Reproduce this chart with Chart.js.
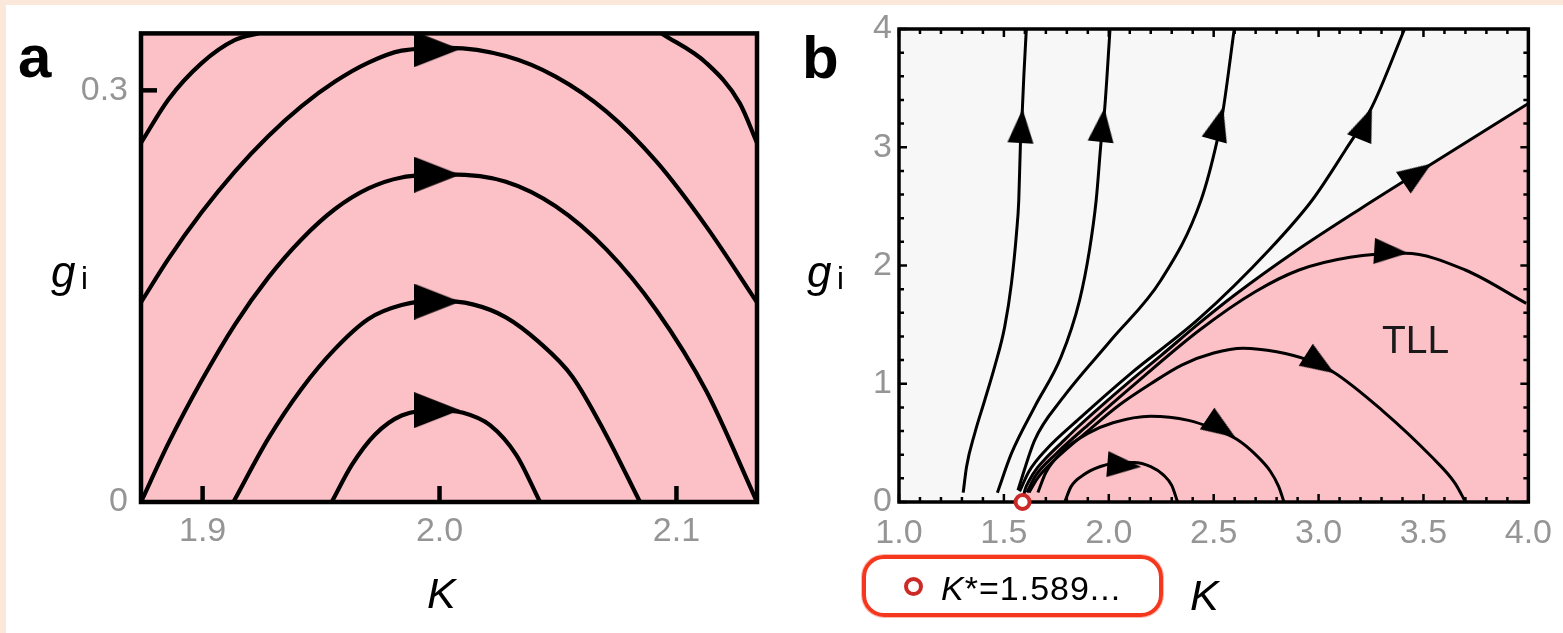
<!DOCTYPE html>
<html lang="en">
<head>
    <meta charset="UTF-8">
    <title>RG flow</title>
    <script src="https://cdn.jsdelivr.net/npm/chart.js"></script>
    <style>
        body { margin: 0; width: 1563px; height: 633px; background: #fff; position: relative; overflow: hidden;
               font-family: 'Liberation Sans', Arial, sans-serif; }
        .edge-top { position: absolute; left: 0; top: 0; width: 1563px; height: 5px; background: #fce8da; }
        .edge-left { position: absolute; left: 0; top: 0; width: 6px; height: 633px; background: #fce8da; }
        .panel { position: absolute; top: 0; }
        .txt { position: absolute; line-height: 1; white-space: nowrap; color: #000; }
        .it { font-style: italic; }
        .key { position: absolute; left: 862px; top: 555px; width: 301px; height: 62px; box-sizing: border-box;
               border: 4px solid #f5371d; border-radius: 22px; box-shadow: 0 0 0 1px rgba(245,55,29,0.35); }
        .key-dot { position: absolute; left: 904px; top: 577px; width: 19px; height: 19px; box-sizing: border-box;
                   border: 4px solid #cc2a27; border-radius: 50%; background: #fff; }
    </style>
</head>
<body>
    <div class="edge-top"></div>
    <div class="edge-left"></div>

    <div class="panel" style="left:0"><canvas id="chartA" width="780" height="633"></canvas></div>
    <div class="panel" style="left:780px"><canvas id="chartB" width="783" height="633"></canvas></div>

    <!-- labels -->
    <div class="txt" style="left:18px; top:27px; font-size:60px; font-weight:bold">a</div>
    <div class="txt" style="left:802px; top:28px; font-size:60px; font-weight:bold">b</div>

    <div class="txt it" style="left:51px; top:250px; font-size:44px">g</div>
    <div class="txt" style="left:81px; top:263px; font-size:31px">i</div>
    <div class="txt it" style="left:807px; top:250px; font-size:44px">g</div>
    <div class="txt" style="left:837px; top:263px; font-size:31px">i</div>

    <div class="txt it" style="left:427px; top:572px; font-size:43px">K</div>
    <div class="txt it" style="left:1190px; top:574px; font-size:43px">K</div>

    <div class="txt" style="left:1382px; top:320px; font-size:39px; color:#1a1a1a">TLL</div>

    <div class="key"></div>
    <div class="key-dot"></div>
    <div class="txt" style="left:941px; top:571px; font-size:34px; letter-spacing:1px"><span class="it">K</span>*=1.589...</div>

    <script>
        // ---- panel a : zoom on the flow near K = 2 ----
        const aKTicks = [1.9, 2.0, 2.1];
        const aGTicks = [0, 0.3];
        const aFlow1 = [[1.9545, 0], [1.963, 0.027], [1.9727, 0.049], [1.984, 0.063], [1.999, 0.0668], [2.01, 0.065], [2.0213, 0.056], [2.0325, 0.034], [2.0424, 0]];
        const aFlow2 = [[1.913, 0], [1.9277, 0.0462], [1.9418, 0.0826], [1.9559, 0.1116], [1.97, 0.1334], [1.984, 0.1435], [1.999, 0.1467], [2.014, 0.144], [2.028, 0.1346], [2.042, 0.1165], [2.056, 0.0915], [2.07, 0.05], [2.0846, 0]];
        const aFlow3 = [[1.874, 0], [1.8855, 0.0425], [1.8996, 0.0885], [1.9137, 0.1295], [1.9277, 0.1635], [1.9418, 0.1915], [1.9559, 0.2135], [1.97, 0.2285], [1.984, 0.2365], [2.004, 0.2387], [2.028, 0.2334], [2.049, 0.2155], [2.0705, 0.1839], [2.0916, 0.1396], [2.1127, 0.0805], [2.134, 0]];
        const aFlow4 = [[1.874, 0.1455], [1.8855, 0.177], [1.8996, 0.2111], [1.9137, 0.241], [1.9277, 0.2666], [1.9418, 0.2885], [1.9559, 0.3064], [1.97, 0.3202], [1.984, 0.3289], [2.004, 0.331], [2.028, 0.325], [2.049, 0.31], [2.0705, 0.2845], [2.0916, 0.248], [2.1127, 0.2005], [2.134, 0.1455]];
        const aFlow5L = [[1.874, 0.2617], [1.8855, 0.2932], [1.8996, 0.3198], [1.9137, 0.3367], [1.9235, 0.3415]];
        const aFlow5R = [[2.0937, 0.3415], [2.1127, 0.3198], [2.1267, 0.2907], [2.134, 0.2617]];
        const aArrowK = [1.999, 1.999, 1.999, 1.999];
        const aArrowG = [0.067, 0.146, 0.2385, 0.330];

        // ---- panel b : full flow diagram ----
        const bKTicks = [1.0, 1.5, 2.0, 2.5, 3.0, 3.5, 4.0];
        const bGTicks = [0, 1, 2, 3, 4];
        const bFlow1 = [[1.306, 0.079], [1.322, 0.299], [1.361, 0.581], [1.409, 0.863], [1.456, 1.144], [1.504, 1.483], [1.536, 1.849], [1.56, 2.272], [1.571, 2.554], [1.579, 3.04], [1.588, 3.32], [1.595, 3.6], [1.607, 4.0]];
        const bFlow2 = [[1.469, 0.079], [1.536, 0.411], [1.647, 0.806], [1.773, 1.229], [1.861, 1.708], [1.908, 2.131], [1.94, 2.554], [1.964, 3.06], [1.98, 3.315], [2.006, 4.0]];
        const bFlow3 = [[1.567, 0.1], [1.647, 0.524], [1.773, 0.863], [2.011, 1.37], [2.249, 1.877], [2.44, 2.554], [2.517, 3.06], [2.545, 3.315], [2.598, 4.0]];
        const bFlow4 = [[1.575, 0.09], [1.62, 0.26], [1.7, 0.44], [1.85, 0.69], [2.1, 1.08], [2.43, 1.55], [2.764, 2.131], [2.97, 2.554], [3.128, 2.977], [3.255, 3.343], [3.41, 4.0]];
        const bSeparatrix = [[1.589, 0], [1.6, 0.1], [1.62, 0.18], [1.66, 0.29], [1.7, 0.37], [1.78, 0.51], [1.85, 0.63], [1.95, 0.79], [2.1, 1.02], [2.25, 1.24], [2.43, 1.51], [2.6, 1.75], [2.89, 2.12], [3.2, 2.48], [3.54, 2.86], [4.0, 3.37]];
        const bArcA = [[1.61, 0.08], [1.65, 0.22], [1.75, 0.41], [1.9, 0.65], [2.1, 0.96], [2.43, 1.45], [2.7, 1.78], [2.907, 1.962], [3.15, 2.07], [3.413, 2.103], [3.699, 1.962], [3.99, 1.68]];
        const bArcB = [[1.62, 0.08], [1.66, 0.2], [1.75, 0.37], [1.9, 0.6], [2.05, 0.82], [2.2, 1.0], [2.35, 1.16], [2.5, 1.26], [2.64, 1.3], [2.8, 1.27], [2.95, 1.2], [3.07, 1.1], [3.3, 0.78], [3.54, 0.38], [3.65, 0.16], [3.7, 0]];
        const bArcC = [[1.662, 0.08], [1.7, 0.25], [1.78, 0.43], [1.9, 0.58], [2.02, 0.67], [2.2, 0.725], [2.38, 0.69], [2.5, 0.62], [2.61, 0.53], [2.7, 0.4], [2.77, 0.26], [2.81, 0.13], [2.835, 0]];
        const bArcD = [[1.79, 0], [1.82, 0.13], [1.88, 0.23], [1.96, 0.3], [2.05, 0.335], [2.12, 0.335], [2.2, 0.3], [2.26, 0.23], [2.3, 0.14], [2.328, 0]];
        const bArrowK = [1.584, 1.97, 2.524, 3.224, 3.471, 3.346, 3.007, 2.536, 2.074];
        const bArrowG = [3.18, 3.188, 3.2, 3.202, 2.78, 2.114, 1.167, 0.626, 0.309];
        const bArrowAngle = [-86.5, -83.7, -74.7, -68, -34.3, 3.6, 32.9, 33.7, 4.6];
        const kStar = 1.589;

        const PINK = '#fcc1c7';
        const GREY_BG = '#f7f7f7';
        const TICK_GREY = '#959595';

        Chart.defaults.font.family = "'Liberation Sans', Arial, sans-serif";
        Chart.defaults.animation = false;
        Chart.defaults.events = [];

        const pts = arr => arr.map(p => ({ x: p[0], y: p[1] }));
        const zip = (ks, gs) => ks.map((k, i) => ({ x: k, y: gs[i] }));

        // black arrowhead pointing right, used as point style
        function arrowHead(len, wid) {
            const c = document.createElement('canvas');
            c.width = len; c.height = wid;
            const ctx = c.getContext('2d');
            ctx.fillStyle = '#000';
            ctx.beginPath();
            ctx.moveTo(0, 0);
            ctx.lineTo(len, wid / 2);
            ctx.lineTo(0, wid);
            ctx.closePath();
            ctx.fill();
            return c;
        }

        const plotBg = {
            id: 'plotBg',
            beforeDraw(chart, args, opts) {
                const { ctx, chartArea: a } = chart;
                ctx.save();
                ctx.fillStyle = opts.color;
                ctx.fillRect(a.left, a.top, a.width, a.height);
                ctx.restore();
            }
        };

        // frame + inward ticks, placed with the chart's own scales
        const frame = {
            id: 'frame',
            beforeDatasetsDraw(chart, args, o) {
                const { ctx, chartArea: a, scales: { x, y } } = chart;
                ctx.save();
                ctx.strokeStyle = '#000';
                ctx.lineWidth = o.tickWidth;
                const xt = (vals, len) => vals.forEach(v => {
                    const px = x.getPixelForValue(v);
                    ctx.beginPath();
                    ctx.moveTo(px, a.bottom); ctx.lineTo(px, a.bottom - len);
                    if (o.mirror) { ctx.moveTo(px, a.top); ctx.lineTo(px, a.top + len); }
                    ctx.stroke();
                });
                const yt = (vals, len) => vals.forEach(v => {
                    const py = y.getPixelForValue(v);
                    ctx.beginPath();
                    ctx.moveTo(a.left, py); ctx.lineTo(a.left + len, py);
                    if (o.mirror) { ctx.moveTo(a.right, py); ctx.lineTo(a.right - len, py); }
                    ctx.stroke();
                });
                xt(o.xMajor, o.major); yt(o.yMajor, o.major);
                xt(o.xMinor, o.minor); yt(o.yMinor, o.minor);
                ctx.lineWidth = o.width;
                ctx.strokeRect(a.left, a.top, a.width, a.height);
                ctx.restore();
            }
        };

        // all flow lines run left to right, so monotone interpolation keeps them smooth
        const curve = (data, w) => ({
            data: pts(data), borderColor: '#000', borderWidth: w, pointRadius: 0,
            cubicInterpolationMode: 'monotone', fill: false, order: 2
        });

        const tickFont = { size: 34 };
        const noGrid = { display: false, drawTicks: false };

        // ---------- panel a ----------
        new Chart(document.getElementById('chartA'), {
            type: 'line',
            data: {
                datasets: [
                    curve(aFlow1, 4.2), curve(aFlow2, 4.2), curve(aFlow3, 4.2), curve(aFlow4, 4.2),
                    curve(aFlow5L, 4.2), curve(aFlow5R, 4.2),
                    {
                        data: zip(aArrowK, aArrowG), showLine: false, order: 1,
                        pointStyle: arrowHead(46, 36), pointRadius: 10, pointRotation: 0
                    }
                ]
            },
            options: {
                responsive: false,
                layout: { padding: { left: 0, right: 23, top: 31, bottom: 0 } },
                scales: {
                    x: {
                        type: 'linear', min: 1.874, max: 2.134,
                        grid: noGrid, border: { display: false },
                        afterBuildTicks: s => { s.ticks = aKTicks.map(v => ({ value: v })); },
                        afterFit: s => { s.height = 131; },
                        ticks: { color: TICK_GREY, font: tickFont, padding: 9, maxRotation: 0, autoSkip: false,
                                 callback: v => v.toFixed(1) }
                    },
                    y: {
                        type: 'linear', min: 0, max: 0.3415,
                        grid: noGrid, border: { display: false },
                        afterBuildTicks: s => { s.ticks = aGTicks.map(v => ({ value: v })); },
                        afterFit: s => { s.width = 141; },
                        ticks: { color: TICK_GREY, font: tickFont, padding: 13, autoSkip: false,
                                 callback: v => v === 0 ? '0' : v.toFixed(1) }
                    }
                },
                plugins: {
                    legend: { display: false }, tooltip: { enabled: false },
                    plotBg: { color: PINK },
                    frame: { width: 4.5, tickWidth: 4.5, major: 16, minor: 0, mirror: false,
                             xMajor: aKTicks, yMajor: [0.3], xMinor: [], yMinor: [] }
                }
            },
            plugins: [plotBg, frame]
        });

        // ---------- panel b ----------
        const bKMinor = [], bGMinor = [];
        for (let i = 1; i < 30; i++) if (i % 5) bKMinor.push(1 + i / 10);
        for (let i = 1; i < 20; i++) if (i % 5) bGMinor.push(i / 5);

        new Chart(document.getElementById('chartB'), {
            type: 'line',
            data: {
                datasets: [
                    { data: zip([kStar], [0]), showLine: false, order: 0, clip: false,
                      pointRadius: 7, pointBorderWidth: 4, pointBorderColor: '#cc2a27', pointBackgroundColor: '#fff' },
                    { data: zip(bArrowK, bArrowG), showLine: false, order: 1,
                      pointStyle: arrowHead(34, 26), pointRadius: 8, pointRotation: bArrowAngle },
                    curve(bFlow1, 3), curve(bFlow2, 3), curve(bFlow3, 3), curve(bFlow4, 3),
                    curve(bArcA, 3), curve(bArcB, 3), curve(bArcC, 3), curve(bArcD, 3),
                    { data: pts(bSeparatrix), borderColor: '#000', borderWidth: 3, pointRadius: 0,
                      cubicInterpolationMode: 'monotone', fill: 'origin', backgroundColor: PINK, order: 5 }
                ]
            },
            options: {
                responsive: false,
                layout: { padding: { left: 0, right: 33, top: 29, bottom: 0 } },
                scales: {
                    x: {
                        type: 'linear', min: 1, max: 4,
                        grid: noGrid, border: { display: false },
                        afterBuildTicks: s => { s.ticks = bKTicks.map(v => ({ value: v })); },
                        afterFit: s => { s.height = 131; },
                        ticks: { color: TICK_GREY, font: tickFont, padding: 11, maxRotation: 0, autoSkip: false,
                                 callback: v => v.toFixed(1) }
                    },
                    y: {
                        type: 'linear', min: 0, max: 4,
                        grid: noGrid, border: { display: false },
                        afterBuildTicks: s => { s.ticks = bGTicks.map(v => ({ value: v })); },
                        afterFit: s => { s.width = 119; },
                        ticks: { color: TICK_GREY, font: tickFont, padding: 7, autoSkip: false,
                                 callback: v => String(v) }
                    }
                },
                plugins: {
                    legend: { display: false }, tooltip: { enabled: false },
                    filler: { drawTime: 'beforeDatasetsDraw' },
                    plotBg: { color: GREY_BG },
                    frame: { width: 3.5, tickWidth: 2.5, major: 8, minor: 5, mirror: true,
                             xMajor: bKTicks, yMajor: bGTicks, xMinor: bKMinor, yMinor: bGMinor }
                }
            },
            plugins: [plotBg, frame]
        });
    </script>
</body>
</html>
